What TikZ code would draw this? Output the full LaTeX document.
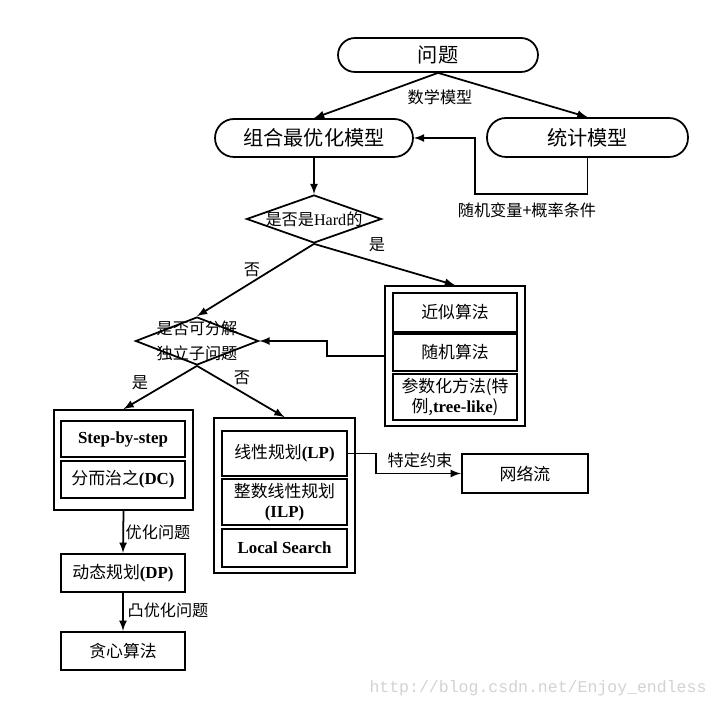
\documentclass[tikz,border=0pt]{standalone}
\usepackage{fontspec}
\setmainfont{Liberation Serif}
\setmonofont{Liberation Mono}
\newfontfamily\cjk{Noto Sans CJK SC}
\usetikzlibrary{shapes, calc}

\newcommand\lat[1]{{\normalfont\bfseries #1}}
\newcommand\bigtxt{\cjk\fontsize{11.5}{13}\selectfont}
\newcommand\boxtxt{\cjk\fontsize{9.6}{12.5}\selectfont}
\newcommand\lbltxt{\cjk\fontsize{9.2}{14.5}\selectfont}

\begin{document}
\begin{tikzpicture}[x=0.02cm, y=-0.02cm, line width=1pt, >=latex,
    pill/.style={draw, rounded corners=0.38cm, minimum height=0.78cm, font=\bigtxt},
    dia/.style={draw, diamond, inner sep=0pt},
    box/.style={draw, line width=1.3pt, minimum width=2.48cm, inner sep=1pt, align=center, font=\boxtxt},
    outer/.style={draw, inner sep=0pt},
    lbl/.style={font=\lbltxt, inner sep=1pt}]
    \useasboundingbox (0,0) rectangle (720,709);
    % top
    \node[pill, minimum width=4cm, minimum height=0.68cm, rounded corners=0.34cm] (prob) at (438,55) {问题};
    \node[pill, minimum width=3.96cm, minimum height=0.76cm] (combo) at (314,138) {组合最优化模型};
    \node[pill, minimum width=4.02cm] (stat) at (587.5,137.5) {统计模型};
    \node[lbl] (mm) at (440,97) {数学模型};
    \node[lbl] (rv) at (527,210) {随机变量+概率条件};
    \draw[->] (prob.south) -- (combo.north);
    \draw[->] (prob.south) -- (stat.north);
    \draw[->] (stat.south) -- ++(0,36) -| (475,138) -- (combo.east);
    % decisions
    \node[dia, minimum width=2.7cm, minimum height=0.96cm,
        label={[lbl]center:是否是{\normalfont Hard}的}] (hard) at (314,219) {};
    \node[dia, minimum width=2.46cm, minimum height=0.96cm,
        label={[lbl, align=center]center:{是否可分解\\独立子问题}}] (split) at (197,341) {};
    \draw[->] (combo.south) -- (hard.north);
    % approximate algorithms
    \node[outer, minimum width=2.8cm, minimum height=2.8cm] (approx) at (455,356) {};
    \node[box, minimum height=0.78cm] (apx) at (455,312.5) {近似算法};
    \node[box, minimum height=0.74cm] (rnd) at (455,352.5) {随机算法};
    \node[box, minimum height=0.92cm, font=\cjk\fontsize{9.6}{11.5}\selectfont] (para) at (455,397) {参数化方法(特\\例,\lat{tree-like})};
    \draw[->] (hard.south) -- (split.north);
    \draw[->] (hard.south) -- (approx.north);
    \node[lbl] (no1) at (252,270) {否};
    \node[lbl] (yes1) at (377,245) {是};
    \draw[->] (approx.west) -- ++(-57,0) |- (split.east);
    % divide
    \node[outer, minimum width=2.78cm, minimum height=2cm] (divide) at (123.5,460) {};
    \node[box, minimum height=0.72cm] (sbs) at (123,439) {\lat{Step-by-step}};
    \node[box, minimum height=0.74cm] (dc) at (123,479.5) {分而治之\lat{(DC)}};
    \node[box, minimum height=0.76cm] (dp) at (123,573) {动态规划\lat{(DP)}};
    \node[box, minimum height=0.76cm] (greedy) at (123,651) {贪心算法};
    \draw[->] (split.south) -- (divide.north);
    \node[lbl] (yes2) at (140,383) {是};
    \draw[->] (divide.south) -- (dp.north);
    \node[lbl] (opt) at (158,532) {优化问题};
    \draw[->] (dp.south) -- (greedy.north);
    \node[lbl] (cvx) at (168,610) {凸优化问题};
    % exact
    \node[outer, minimum width=2.82cm, minimum height=3.1cm] (exact) at (284.5,495.5) {};
    \node[box, minimum width=2.5cm, minimum height=0.9cm] (lp) at (284.5,453.5) {线性规划\lat{(LP)}};
    \node[box, minimum width=2.5cm, minimum height=0.92cm, font=\cjk\fontsize{9.6}{11.5}\selectfont] (ilp) at (284.5,502) {整数线性规划\\\lat{(ILP)}};
    \node[box, minimum width=2.5cm, minimum height=0.76cm] (ls) at (284.5,548) {\lat{Local Search}};
    \draw[->] (split.south) -- (exact.north);
    \node[lbl] (no2) at (242,378) {否};
    \node[box, minimum width=2.52cm, minimum height=0.78cm] (flow) at (525,473.5) {网络流};
    \draw[->] (lp.east) -- ++(28,0) |- (flow.west);
    \node[lbl] (cons) at (420,460) {特定约束};
    % watermark
    \node[text=gray!35, font=\ttfamily\fontsize{9.4}{10}\selectfont] (wm) at (538,688) {http://blog.csdn.net/Enjoy\_endless};
\end{tikzpicture}
\end{document}
